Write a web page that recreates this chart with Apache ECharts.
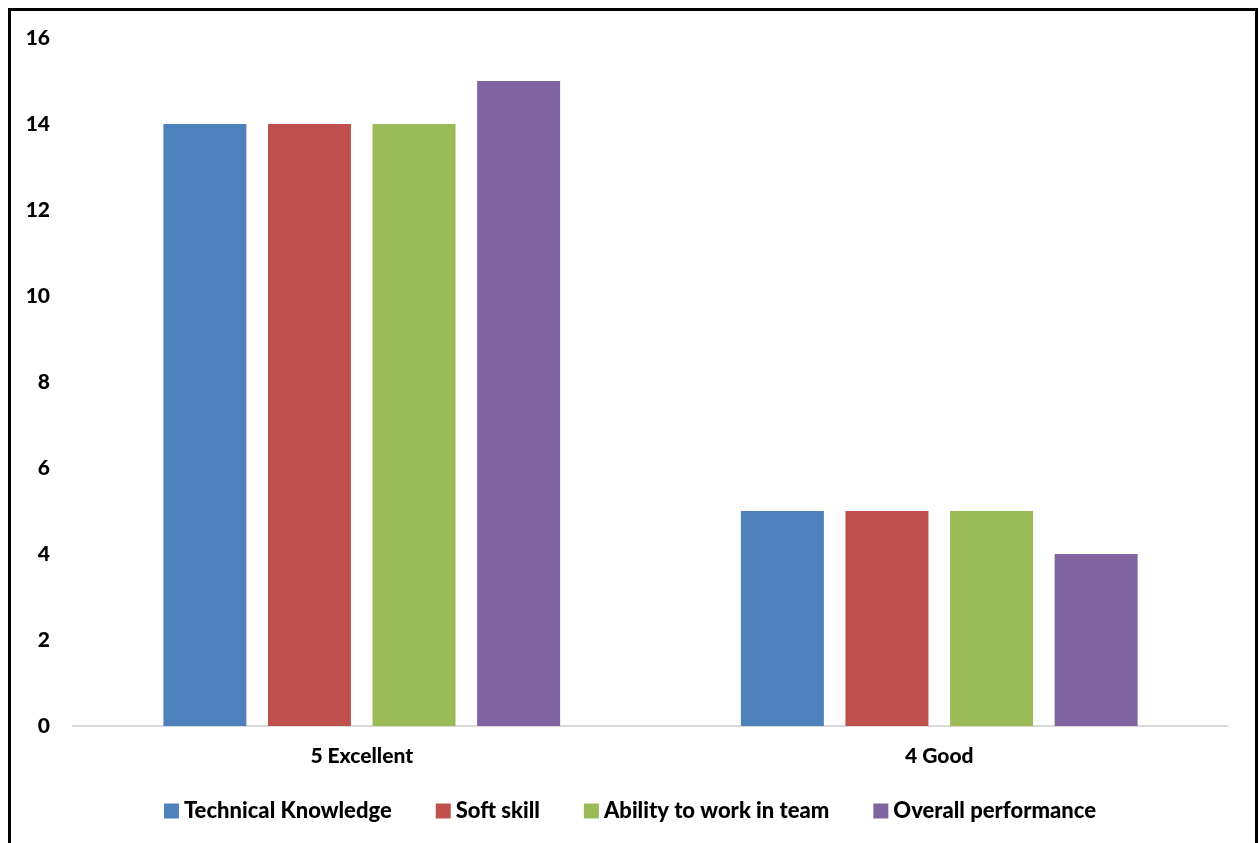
<!DOCTYPE html>
<html><head><meta charset="utf-8">
<script src="https://cdn.jsdelivr.net/npm/echarts@6/dist/echarts.min.js"></script>
<style>
html,body{margin:0;padding:0;background:#fff;}
#frame{position:absolute;left:8px;top:8px;width:1250px;height:850px;border:3px solid #000;border-bottom:none;box-sizing:border-box;}
#c{position:absolute;left:0;top:0;width:1260px;height:843px;}
</style></head>
<body>
<div id="frame"></div>
<div id="c"></div>
<script>
const categories = ['5 Excellent', '4 Good'];
const seriesNames = ['Technical Knowledge', 'Soft skill', 'Ability to work in team', 'Overall performance'];
const technicalKnowledge = [14, 5];
const softSkill = [14, 5];
const teamWork = [14, 5];
const overallPerformance = [15, 4];
const colors = ['#4F81BD', '#C0504D', '#9BBB59', '#8064A2'];
const values = [technicalKnowledge, softSkill, teamWork, overallPerformance];
const font = 'Lato, "Open Sans", sans-serif';
const chart = echarts.init(document.getElementById('c'));
chart.setOption({
  animation: false,
  color: colors,
  grid: {left: 73, right: 32, top: 38, bottom: 117, containLabel: false},
  legend: {
    bottom: 16, left: 'center', itemWidth: 15, itemHeight: 15, itemGap: 44,
    icon: 'rect',
    textStyle: {fontFamily: font, fontWeight: 900, fontSize: 22, color: '#000'},
    data: seriesNames
  },
  xAxis: {
    type: 'category', data: categories,
    axisLine: {lineStyle: {color: '#d9d9d9', width: 2}},
    axisTick: {show: false},
    axisLabel: {fontFamily: font, fontWeight: 900, fontSize: 21, color: '#000', margin: 20}
  },
  yAxis: {
    type: 'value', min: 0, max: 16, interval: 2,
    splitLine: {show: false},
    axisLine: {show: false}, axisTick: {show: false},
    axisLabel: {fontFamily: font, fontWeight: 900, fontSize: 21, color: '#000', margin: 23}
  },
  series: values.map((v, i) => ({
    name: seriesNames[i], type: 'bar', data: v,
    barWidth: 83, barGap: '26%', barCategoryGap: '31%'
  }))
});
</script>
</body></html>
